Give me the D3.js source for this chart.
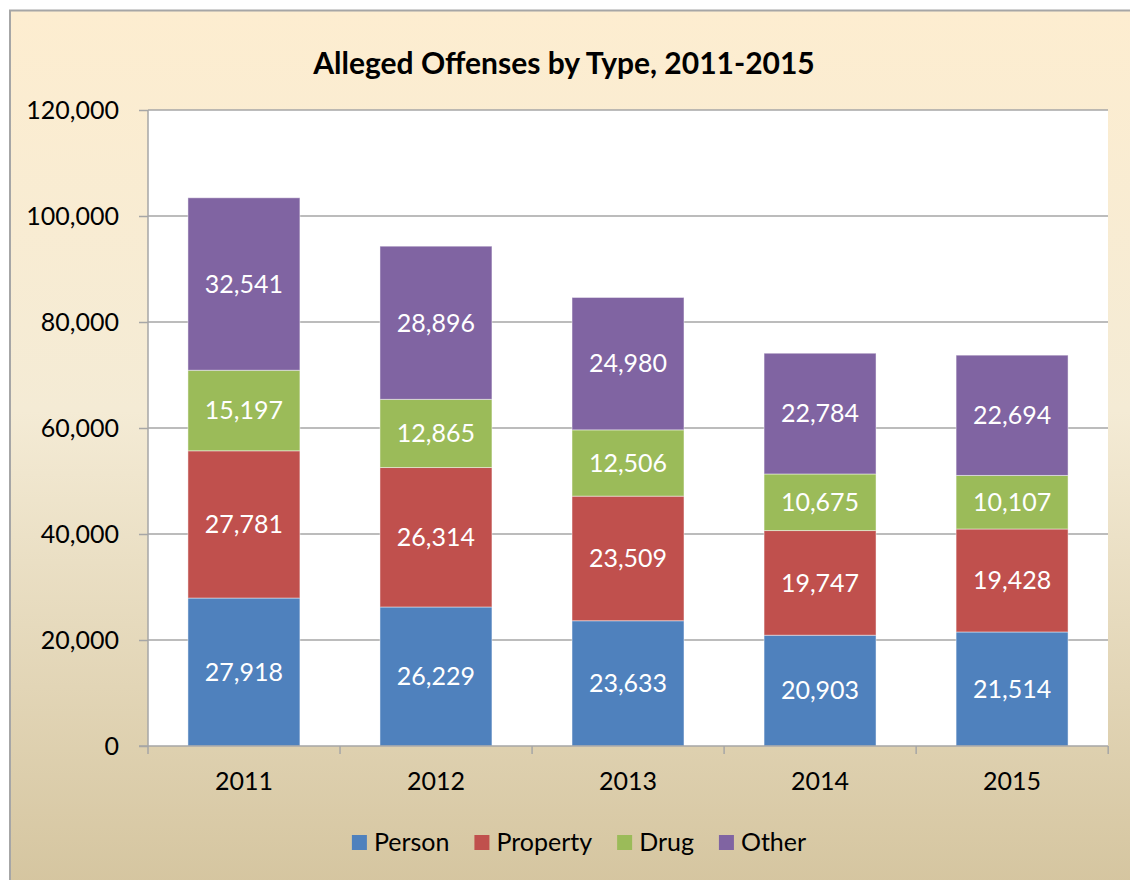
<!DOCTYPE html>
<meta charset="utf-8">
<style>
body { margin: 0; }
svg text { font-family: Lato, "Open Sans", sans-serif; }
.grid line { stroke: #a6a6a6; stroke-width: 1.5px; }
.axis path, .axis line { stroke: #a6a6a6; stroke-width: 1.5px; fill: none; }
.axis text { font-size: 25px; fill: #000; }
.lbl { font-size: 25px; fill: #fff; }
</style>
<body>
<div id="chart"></div>
</body>
<script src="https://d3js.org/d3.v7.min.js"></script>
<script>

var years = ["2011", "2012", "2013", "2014", "2015"];
var seriesNames = ["Person", "Property", "Drug", "Other"];
var person   = [27918, 26229, 23633, 20903, 21514];
var property = [27781, 26314, 23509, 19747, 19428];
var drug     = [15197, 12865, 12506, 10675, 10107];
var other    = [32541, 28896, 24980, 22784, 22694];
var yTicks = [0, 20000, 40000, 60000, 80000, 100000, 120000];
var colors = ["#4f81bd", "#c0504d", "#9bbb59", "#8064a2"];

var W = 1130, H = 880;
var margin = {top: 110, right: 22, bottom: 134, left: 148},
    width = W - margin.left - margin.right,
    height = H - margin.top - margin.bottom;

var rows = years.map(function(y, i) {
  return {year: y, Person: person[i], Property: property[i], Drug: drug[i], Other: other[i]};
});
var stacked = d3.stack().keys(seriesNames)(rows);

var x = d3.scaleBand().domain(years).range([0, width]).paddingInner(0.417).paddingOuter(0.208);
var y = d3.scaleLinear().domain([0, 120000]).range([height, 0]);
var color = d3.scaleOrdinal().domain(seriesNames).range(colors);

var svg = d3.select("#chart").append("svg")
    .attr("width", W)
    .attr("height", H);

var defs = svg.append("defs");
var grad = defs.append("linearGradient")
    .attr("id", "bg").attr("x1", 0).attr("y1", 0).attr("x2", 0).attr("y2", 1);
grad.append("stop").attr("offset", "0%").attr("stop-color", "#fdedd0");
grad.append("stop").attr("offset", "45%").attr("stop-color", "#f4ebd5");
grad.append("stop").attr("offset", "100%").attr("stop-color", "#d4c49e");

// outer frame
svg.append("rect")
    .attr("x", 10).attr("y", 10.5)
    .attr("width", W + 10).attr("height", H + 10)
    .attr("fill", "url(#bg)")
    .attr("stroke", "#a6a6a6")
    .attr("stroke-width", 2);

svg.append("text")
    .attr("x", 564).attr("y", 74)
    .attr("text-anchor", "middle")
    .style("font-size", "30px")
    .style("font-weight", "bold")
    .text("Alleged Offenses by Type, 2011-2015");

var g = svg.append("g")
    .attr("transform", "translate(" + margin.left + "," + margin.top + ")");

g.append("rect")
    .attr("width", width).attr("height", height)
    .attr("fill", "#fff");

// gridlines
g.append("g").attr("class", "grid")
  .selectAll("line")
  .data(yTicks.slice(1))
  .enter().append("line")
    .attr("x1", 0).attr("x2", width)
    .attr("y1", function(d) { return y(d); })
    .attr("y2", function(d) { return y(d); });

// bars
var layer = g.selectAll(".layer")
    .data(stacked)
  .enter().append("g")
    .attr("class", "layer")
    .attr("fill", function(d) { return color(d.key); });

layer.selectAll("rect")
    .data(function(d) { return d; })
  .enter().append("rect")
    .attr("x", function(d) { return x(d.data.year); })
    .attr("width", x.bandwidth())
    .attr("y", function(d) { return y(d[1]); })
    .attr("height", function(d) { return y(d[0]) - y(d[1]); })
    .attr("stroke", "rgba(255,255,255,0.45)")
    .attr("stroke-width", 1);

layer.selectAll("text")
    .data(function(d) { return d; })
  .enter().append("text")
    .attr("class", "lbl")
    .attr("text-anchor", "middle")
    .attr("dy", "0.35em")
    .attr("x", function(d) { return x(d.data.year) + x.bandwidth() / 2; })
    .attr("y", function(d) { return (y(d[0]) + y(d[1])) / 2; })
    .text(function(d) { return d3.format(",")(d[1] - d[0]); });

// y axis
var yAxis = g.append("g").attr("class", "axis")
    .call(d3.axisLeft(y).tickValues(yTicks).tickSize(9).tickPadding(20).tickFormat(d3.format(",")));
yAxis.select(".domain").attr("d", "M0," + height + "V0");

// x axis
var xAxis = g.append("g").attr("class", "axis")
    .attr("transform", "translate(0," + height + ")")
    .call(d3.axisBottom(x).tickSize(0).tickPadding(26));
xAxis.select(".domain").attr("d", "M-9,0H" + width);
xAxis.selectAll(".sep")
    .data(d3.range(years.length + 1))
  .enter().append("line")
    .attr("class", "sep")
    .attr("x1", function(i) { return i * x.step(); })
    .attr("x2", function(i) { return i * x.step(); })
    .attr("y1", 0).attr("y2", 8);

// legend
var legend = svg.append("g").attr("transform", "translate(0,842)");
var items = legend.selectAll("g")
    .data(seriesNames)
  .enter().append("g");
items.append("rect")
    .attr("y", -7).attr("width", 15).attr("height", 15)
    .attr("fill", function(d) { return color(d); });
items.append("text")
    .attr("x", 22)
    .attr("dy", "0.35em")
    .style("font-size", "25px")
    .text(function(d) { return d; });

var offs = [], pos = 0;
items.each(function() {
  offs.push(pos);
  pos += 22 + d3.select(this).select("text").node().getComputedTextLength() + 25;
});
var total = pos - 25;
var start = 579 - total / 2;
items.attr("transform", function(d, i) { return "translate(" + (start + offs[i]) + ",0)"; });

</script>
